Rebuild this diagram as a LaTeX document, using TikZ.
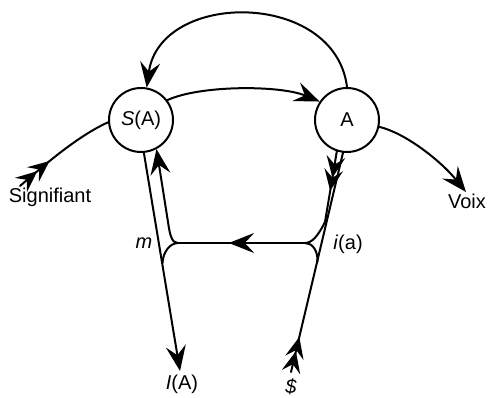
\documentclass[tikz,border=0pt]{standalone}
\usepackage{fontspec}
\setmainfont{Liberation Sans}
\usetikzlibrary{arrows.meta,decorations.markings}
\begin{document}
\begin{tikzpicture}[x=0.75pt,y=-0.75pt, line width=1.5pt, line cap=round,
  >={Stealth[length=19pt,width=15pt,inset=7pt]},
  font=\fontsize{15}{18}\selectfont,
  circ/.style={circle,draw,minimum size=48pt,inner sep=0pt},
  lbl/.style={inner sep=0pt},
  dbl/.style 2 args={postaction={decorate},decoration={markings,
     mark=at position #1 with {\arrow{Stealth[length=16pt,width=14pt,inset=6pt]}},
     mark=at position #2 with {\arrow{Stealth[length=16pt,width=14pt,inset=6pt]}}}},
  midarr/.style={postaction={decorate},decoration={markings,
     mark=at position #1 with {\arrow{>}}}}]
\useasboundingbox (0,0) rectangle (488,398);
% nodes
\node[circ] (SA) at (141,120) {\textit{S}(A)};
\node[circ] (A) at (347,120) {A};
\node[lbl] (sig) at (50,197) {Signifiant};
\node[lbl] (voix) at (467,201) {Voix};
\node[lbl] (m) at (144,243) {\textit{m}};
\node[lbl] (ia) at (348,244) {\textit{i}(a)};
\node[lbl] (IA) at (182,384) {\textit{I}(A)};
\node[lbl] (sb) at (291,387) {\textit{\$}};
% coordinates
\coordinate (sigS) at (20,186);
\coordinate (voixE) at (466,192);
\coordinate (JL) at (178,243);
\coordinate (JR) at (305,243);
\coordinate (IL) at (168,222);
\coordinate (IR) at (325,222);
\coordinate (OL) at (162.5,263);
\coordinate (OR) at (317.5,262);
\coordinate (IAt) at (180,371);
\coordinate (sbS) at (291,372);
% connectors
\draw[->] (A.90) .. controls (335,-10) and (160,-10) .. (SA.80);
\draw[->] (SA.37) .. controls (200,85) and (280,85) .. (A.146);
\draw[dbl={17pt}{29pt}] (sigS) .. controls (50,160) and (80,135) .. (SA.184);
\draw[->] (A.-12) .. controls (405,133) and (440,160) .. (voixE);
\draw[->] (SA.-85) -- (IAt);
\draw[dbl={16pt}{27pt}] (sbS) -- (A.-97);
\draw[dbl={20pt}{30pt}] (A.-108) -- (IR) .. controls (318,236) and (312,243) .. (JR);
\draw[midarr=0.6] (JR) -- (JL);
\draw[->] (JL) .. controls (172,243) and (170,236) .. (IL) -- (SA.-62);
\draw (JR) .. controls (312,243) and (318,250) .. (OR);
\draw (JL) .. controls (170,243) and (163,252) .. (OL);
\end{tikzpicture}
\end{document}
